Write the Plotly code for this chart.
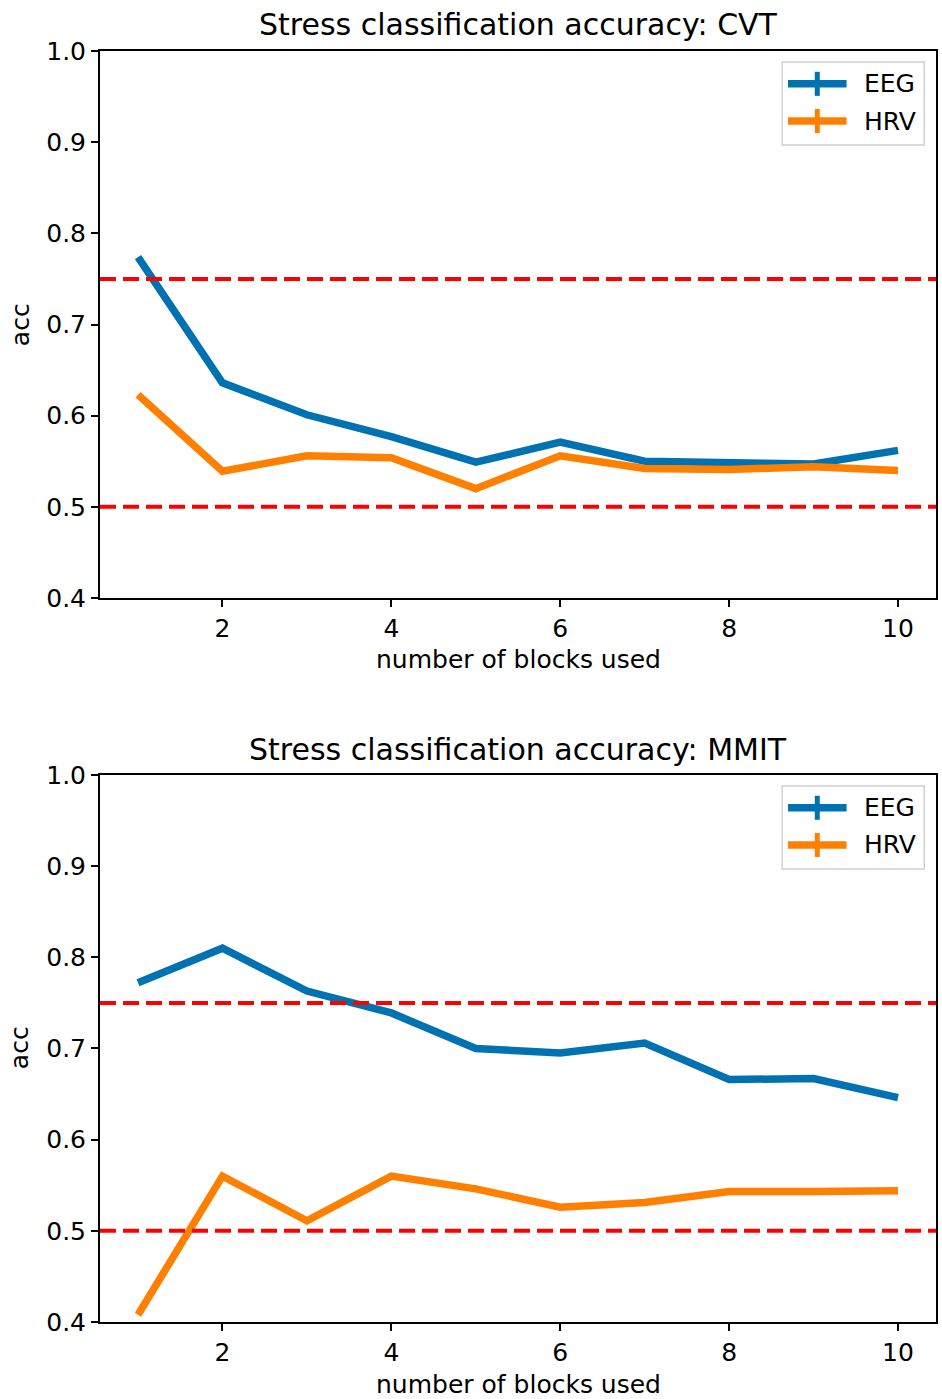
import plotly.graph_objects as go

# Number of blocks used
blocks = [1, 2, 3, 4, 5, 6, 7, 8, 9, 10]

# CVT task accuracies
cvt_eeg = [0.774, 0.636, 0.601, 0.577, 0.549, 0.571, 0.550, 0.548, 0.547, 0.562]
cvt_hrv = [0.623, 0.539, 0.556, 0.554, 0.520, 0.556, 0.542, 0.541, 0.544, 0.540]

# MMIT task accuracies
mmit_eeg = [0.772, 0.810, 0.763, 0.739, 0.700, 0.695, 0.706, 0.666, 0.667, 0.646]
mmit_hrv = [0.408, 0.560, 0.511, 0.560, 0.546, 0.526, 0.531, 0.543, 0.543, 0.544]

thresholds = [0.75, 0.5]
titles = ["Stress classification accuracy: CVT", "Stress classification accuracy: MMIT"]
series_names = ["EEG", "HRV"]
y_ticks = [0.4, 0.5, 0.6, 0.7, 0.8, 0.9, 1.0]
x_ticks = [2, 4, 6, 8, 10]

BLUE = "#0072b2"
ORANGE = "#ff8000"
COLORS = [BLUE, ORANGE]
FONT = "DejaVu Sans"

fig = go.Figure()

panels = [(cvt_eeg, cvt_hrv), (mmit_eeg, mmit_hrv)]
axis_ids = [("x", "y"), ("x2", "y2")]

for (eeg, hrv), (xa, ya) in zip(panels, axis_ids):
    for vals, color, name in zip((eeg, hrv), COLORS, series_names):
        fig.add_trace(go.Scatter(
            x=blocks, y=vals, mode="lines", name=name,
            line=dict(color=color, width=7.5),
            xaxis=xa, yaxis=ya, showlegend=False,
        ))
    # chance / reference levels
    for t in thresholds:
        fig.add_shape(type="line", xref=f"{xa} domain", yref=ya,
                      x0=0, x1=1, y0=t, y1=t,
                      line=dict(color="#ff0000", width=4, dash="16px,7px"))

    # legend box with cross-shaped keys
    fig.add_shape(type="rect", xref=f"{xa} domain", yref=f"{ya} domain",
                  x0=0.816, x1=0.986, y0=0.828, y1=0.980,
                  line=dict(color="#d0d0d0", width=1.5), fillcolor="rgba(255,255,255,0.8)")
    for i, (color, name) in enumerate(zip(COLORS, series_names)):
        yc = 0.940 - i * 0.068
        fig.add_shape(type="line", xref=f"{xa} domain", yref=f"{ya} domain",
                      x0=0.823, x1=0.893, y0=yc, y1=yc,
                      line=dict(color=color, width=7.5))
        fig.add_shape(type="line", xref=f"{xa} domain", yref=f"{ya} domain",
                      x0=0.858, x1=0.858, y0=yc - 0.022, y1=yc + 0.022,
                      line=dict(color=color, width=5))
        fig.add_annotation(xref=f"{xa} domain", yref=f"{ya} domain",
                           x=0.911, y=yc, text=name, showarrow=False,
                           xanchor="left", yanchor="middle",
                           font=dict(family=FONT, size=25, color="black"))

axis_common = dict(
    showline=True, mirror=True, linecolor="black", linewidth=2,
    ticks="outside", ticklen=7, tickwidth=2, tickcolor="black",
    showgrid=False, zeroline=False,
    tickfont=dict(family=FONT, size=25, color="black"),
)

fig.update_layout(
    width=942, height=1399,
    margin=dict(l=100, r=4, t=51, b=77),
    paper_bgcolor="white", plot_bgcolor="white",
    showlegend=False,
    xaxis=dict(domain=[0, 1], anchor="y", range=[0.55, 10.45],
               tickvals=x_ticks, **axis_common),
    yaxis=dict(domain=[0.5696, 1], anchor="x", range=[0.4, 1.0],
               tickvals=y_ticks, tickformat=".1f", **axis_common),
    xaxis2=dict(domain=[0, 1], anchor="y2", range=[0.55, 10.45],
                tickvals=x_ticks, **axis_common),
    yaxis2=dict(domain=[0, 0.4304], anchor="x2", range=[0.4, 1.0],
                tickvals=y_ticks, tickformat=".1f", **axis_common),
)

# Titles and axis labels
title_y = [1.0205, 0.4508]
xlabel_y = [0.5209, -0.0488]
ylabel_y = [0.7844, 0.2156]
for title, ty, xy, yy in zip(titles, title_y, xlabel_y, ylabel_y):
    fig.add_annotation(xref="paper", yref="paper", x=0.5, y=ty, text=title,
                       showarrow=False, xanchor="center", yanchor="middle",
                       font=dict(family=FONT, size=30, color="black"))
    fig.add_annotation(xref="paper", yref="paper", x=0.5, y=xy,
                       text="number of blocks used", showarrow=False,
                       xanchor="center", yanchor="middle",
                       font=dict(family=FONT, size=25, color="black"))
    fig.add_annotation(xref="paper", yref="paper", x=-0.0955, y=yy,
                       text="acc", showarrow=False, textangle=-90,
                       xanchor="center", yanchor="middle",
                       font=dict(family=FONT, size=25, color="black"))

fig.write_html("out.html")
